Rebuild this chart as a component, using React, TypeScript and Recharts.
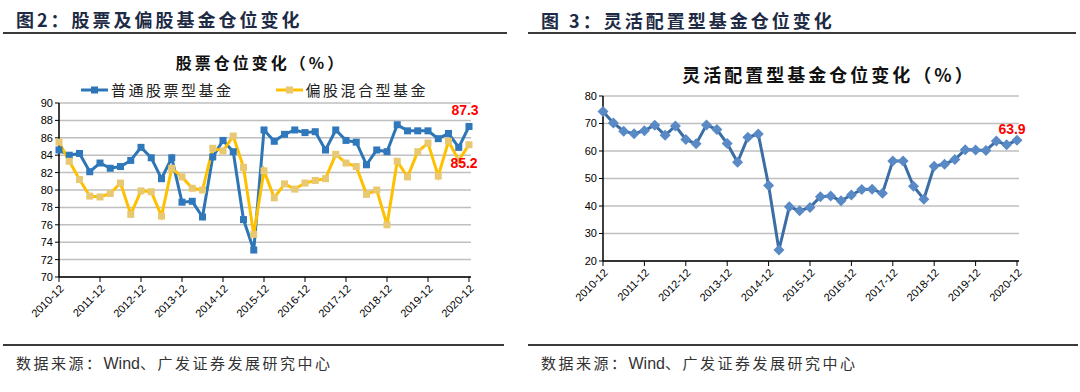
import React from "react";
import { CartesianGrid, Line, LineChart, XAxis, YAxis } from "recharts";

const quarters = [
  "2010-12", "2011-03", "2011-06", "2011-09", "2011-12", "2012-03", "2012-06", "2012-09", "2012-12",
  "2013-03", "2013-06", "2013-09", "2013-12", "2014-03", "2014-06", "2014-09", "2014-12",
  "2015-03", "2015-06", "2015-09", "2015-12", "2016-03", "2016-06", "2016-09", "2016-12",
  "2017-03", "2017-06", "2017-09", "2017-12", "2018-03", "2018-06", "2018-09", "2018-12",
  "2019-03", "2019-06", "2019-09", "2019-12", "2020-03", "2020-06", "2020-09", "2020-12",
];

// 普通股票型基金
const stockFund = [
  84.6, 84.0, 84.2, 82.1, 83.1, 82.5, 82.7, 83.4, 84.9, 83.7,
  81.3, 83.7, 78.6, 78.7, 76.9, 83.8, 85.7, 84.4, 76.6, 73.1,
  86.9, 85.6, 86.4, 86.9, 86.6, 86.7, 84.6, 86.9, 85.7, 85.5,
  82.9, 84.6, 84.4, 87.5, 86.8, 86.8, 86.8, 85.9, 86.5, 84.9, 87.3,
];

// 偏股混合型基金
const hybridFund = [
  85.5, 83.3, 81.2, 79.3, 79.2, 79.6, 80.8, 77.2, 79.9, 79.8,
  77.0, 82.5, 81.5, 80.2, 80.0, 84.8, 84.5, 86.2, 82.6, 74.9,
  82.2, 79.1, 80.7, 80.1, 80.8, 81.1, 81.3, 84.1, 83.1, 82.7,
  79.5, 80.0, 76.0, 83.3, 81.5, 84.4, 85.4, 81.6, 85.6, 83.4, 85.2,
];

// 灵活配置型基金
const flexibleFund = [
  74.4, 70.2, 67.2, 66.3, 67.4, 69.4, 65.7, 69.1, 64.2, 62.6,
  69.5, 67.8, 62.7, 55.9, 65.0, 66.2, 47.5, 24.0, 39.7, 38.3,
  39.5, 43.4, 43.6, 41.9, 44.0, 46.0, 46.1, 44.6, 56.4, 56.4,
  47.2, 42.5, 54.5, 55.2, 56.9, 60.5, 60.4, 60.2, 63.6, 62.3, 63.9,
];

const leftTicks = [70, 72, 74, 76, 78, 80, 82, 84, 86, 88, 90];
const rightTicks = [20, 30, 40, 50, 60, 70, 80];

const leftData = quarters.map((q, i) => ({ q, stock: stockFund[i], hybrid: hybridFund[i] }));
const rightData = quarters.map((q, i) => ({ q, flex: flexibleFund[i] }));

const CJK = '"Noto Sans CJK SC", "Noto Sans", sans-serif';
const LATIN = '"Liberation Sans", Arial, sans-serif';
const LAST = quarters.length - 1;

const squareDot = (fill: string) => (props: any) => {
  const { cx, cy, index } = props;
  return <rect key={`sq-${index}`} x={cx - 3.5} y={cy - 3.5} width={7} height={7} fill={fill} />;
};

const diamondDot = (props: any) => {
  const { cx, cy, index } = props;
  return (
    <path
      key={`dm-${index}`}
      d={`M${cx},${cy - 5.5} L${cx + 5.5},${cy} L${cx},${cy + 5.5} L${cx - 5.5},${cy} Z`}
      fill="#5A8AC6"
    />
  );
};

const lastLabel = (dx: number, dy: number) => (props: any) => {
  const { x, y, index, value } = props;
  if (index !== LAST) return null;
  return (
    <text
      key="last"
      x={x + dx}
      y={y + dy}
      textAnchor="middle"
      dominantBaseline="central"
      fill="#FF0000"
      fontSize={14}
      fontWeight={700}
      fontFamily={LATIN}
    >
      {Number(value).toFixed(1)}
    </text>
  );
};

const tickStyle = { fill: "#000", fontSize: 11, fontFamily: LATIN };

const Source = ({ left }: { left: number }) => (
  <div style={{ position: "absolute", left, top: 352, fontFamily: CJK, fontSize: 15, letterSpacing: 2.5, color: "#333", lineHeight: "22px", whiteSpace: "nowrap" }}>
    数据来源：<span style={{ letterSpacing: 0, fontFamily: LATIN, fontSize: 16 }}>Wind</span>、广发证券发展研究中心
  </div>
);

export default function App() {
  return (
    <div style={{ position: "absolute", left: 0, top: 0, width: 1080, height: 392, background: "#fff", overflow: "hidden" }}>
      {/* headers */}
      <div style={{ position: "absolute", left: 16, top: 6, fontFamily: CJK, fontWeight: 700, fontSize: 18, letterSpacing: 3, color: "#1E2B45", lineHeight: "26px" }}>
        图2：股票及偏股基金仓位变化
      </div>
      <div style={{ position: "absolute", left: 3, top: 32, width: 504, height: 2, background: "#3a3a3a" }} />
      <div style={{ position: "absolute", left: 541, top: 7, fontFamily: CJK, fontWeight: 700, fontSize: 18, letterSpacing: 3, color: "#1E2B45", lineHeight: "26px" }}>
        图 3：灵活配置型基金仓位变化
      </div>
      <div style={{ position: "absolute", left: 528, top: 32, width: 548, height: 2, background: "#3a3a3a" }} />

      {/* left chart */}
      <div style={{ position: "absolute", left: 0, top: 51, width: 522, textAlign: "center", fontFamily: CJK, fontWeight: 700, fontSize: 16, letterSpacing: 3, color: "#111", lineHeight: "22px" }}>
        股票仓位变化（%）
      </div>
      <div style={{ position: "absolute", left: 81, top: 80, display: "flex", alignItems: "center", fontFamily: CJK, fontSize: 15, letterSpacing: 2.5, color: "#222", lineHeight: "20px" }}>
        <svg width={27} height={10}>
          <line x1={0} y1={5} x2={27} y2={5} stroke="#2E75B6" strokeWidth={3} />
          <rect x={10} y={1.5} width={7} height={7} fill="#2E75B6" />
        </svg>
        <span style={{ marginLeft: 3 }}>普通股票型基金</span>
        <svg width={27} height={10} style={{ marginLeft: 42 }}>
          <line x1={0} y1={5} x2={27} y2={5} stroke="#FFC000" strokeWidth={3} />
          <rect x={10} y={1.5} width={7} height={7} fill="#E8C870" />
        </svg>
        <span style={{ marginLeft: 3 }}>偏股混合型基金</span>
      </div>
      <div style={{ position: "absolute", left: 0, top: 0 }}>
        <LineChart width={490} height={340} data={leftData} margin={{ top: 103, right: 19, bottom: 0, left: 0 }}>
          <CartesianGrid vertical={false} stroke="#BFBFBF" strokeWidth={1.5} />
          <XAxis
            dataKey="q"
            interval={3}
            padding={{ left: 0, right: 2 }}
            height={63}
            angle={-45}
            textAnchor="end"
            tick={tickStyle}
            tickSize={5}
            stroke="#000"
            axisLine={{ stroke: "#000", strokeWidth: 1.5 }}
          />
          <YAxis
            domain={[70, 90]}
            ticks={leftTicks}
            width={59}
            tick={tickStyle}
            tickSize={4}
            stroke="#000"
            axisLine={{ stroke: "#000", strokeWidth: 1.5 }}
            interval={0}
          />
          <Line
            dataKey="stock"
            stroke="#2E75B6"
            strokeWidth={3}
            dot={squareDot("#2F78BC")}
            isAnimationActive={false}
            label={lastLabel(-4, -16)}
          />
          <Line
            dataKey="hybrid"
            stroke="#FFC000"
            strokeWidth={3}
            dot={squareDot("#E8C870")}
            isAnimationActive={false}
            label={lastLabel(-5, 18)}
          />
        </LineChart>
      </div>

      {/* right chart */}
      <div style={{ position: "absolute", left: 829 - 250, top: 62, width: 500, textAlign: "center", fontFamily: CJK, fontWeight: 700, fontSize: 18, letterSpacing: 3, color: "#111", lineHeight: "24px" }}>
        灵活配置型基金仓位变化（%）
      </div>
      <div style={{ position: "absolute", left: 0, top: 0 }}>
        <LineChart width={1040} height={324} data={rightData} margin={{ top: 96, right: 21, bottom: 0, left: 560 }}>
          <CartesianGrid vertical={false} stroke="#BFBFBF" strokeWidth={1.5} />
          <XAxis
            dataKey="q"
            interval={3}
            padding={{ left: 0, right: 2 }}
            height={63}
            angle={-45}
            textAnchor="end"
            tick={tickStyle}
            tickSize={5}
            stroke="#000"
            axisLine={{ stroke: "#000", strokeWidth: 1.5 }}
          />
          <YAxis
            domain={[20, 80]}
            ticks={rightTicks}
            width={43}
            tick={tickStyle}
            tickSize={4}
            stroke="#000"
            axisLine={{ stroke: "#000", strokeWidth: 1.5 }}
            interval={0}
          />
          <Line
            dataKey="flex"
            stroke="#3A6EA5"
            strokeWidth={3}
            dot={diamondDot}
            isAnimationActive={false}
            label={lastLabel(-5, -11)}
          />
        </LineChart>
      </div>

      {/* footers */}
      <div style={{ position: "absolute", left: 3, top: 344, width: 501, height: 2, background: "#3a3a3a" }} />
      <div style={{ position: "absolute", left: 528, top: 344, width: 550, height: 2, background: "#3a3a3a" }} />
      <Source left={16} />
      <Source left={541} />
    </div>
  );
}
